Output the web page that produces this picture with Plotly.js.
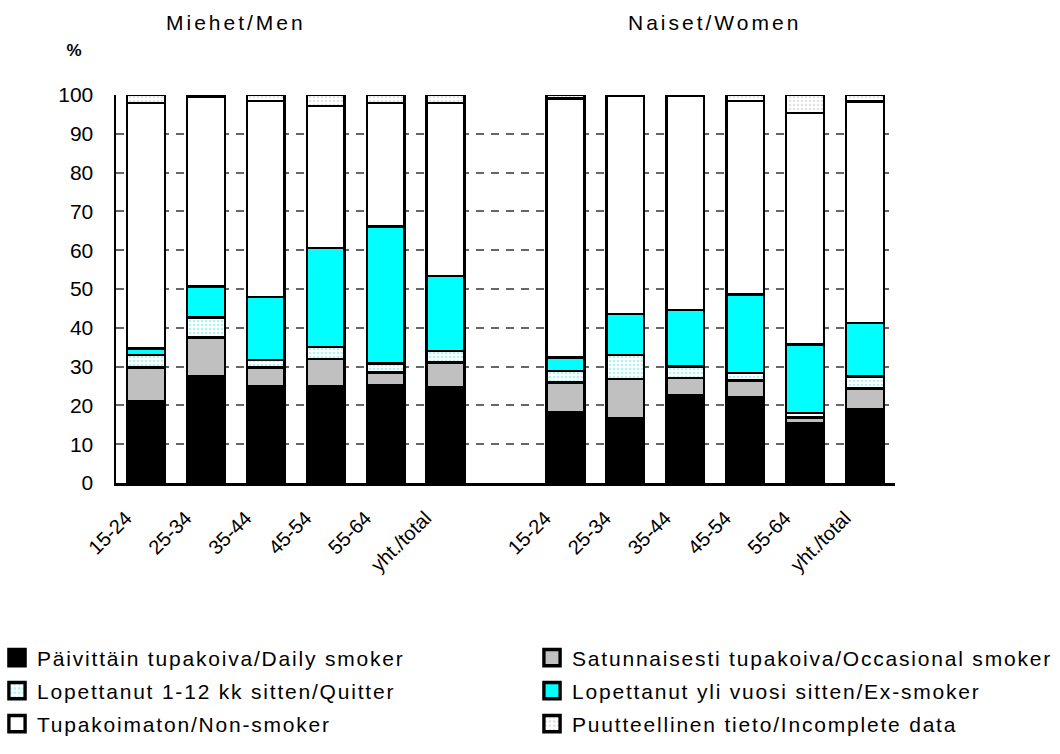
<!DOCTYPE html>
<html>
<head>
<meta charset="utf-8">
<script src="https://cdn.plot.ly/plotly-3.0.1.min.js"></script>
<style>
  html, body { margin: 0; padding: 0; background: #fff; }
  #chart { width: 1060px; height: 754px; }
  #chart .annotation-text { letter-spacing: 3px; }
  #chart text[class*="legend"] { letter-spacing: 1.8px; }
</style>
</head>
<body>
<div id="chart"></div>
<script>
// ---- data ----
const ageCategories = ['15-24', '25-34', '35-44', '45-54', '55-64', 'yht./total'];
const groupTitles = ['Miehet/Men', 'Naiset/Women'];
const seriesNames = [
  'Päivittäin tupakoiva/Daily smoker',
  'Satunnaisesti tupakoiva/Occasional smoker',
  'Lopettanut 1-12 kk sitten/Quitter',
  'Lopettanut yli vuosi sitten/Ex-smoker',
  'Tupakoimaton/Non-smoker',
  'Puutteellinen tieto/Incomplete data'
];
// Men (%), by age category
const menDaily      = [21.0, 27.6, 25.0, 25.0, 25.3, 24.7];
const menOccasional = [ 8.8,  9.9,  4.8,  6.9,  3.2,  6.3];
const menQuitter    = [ 3.2,  5.2,  1.9,  3.2,  2.3,  3.0];
const menExSmoker   = [ 1.7,  7.9, 16.3, 25.5, 35.3, 19.4];
const menNonSmoker  = [63.2, 49.0, 50.5, 36.6, 31.8, 44.6];
const menIncomplete = [ 2.1,  0.4,  1.5,  2.8,  2.1,  2.0];
// Women (%), by age category
const womenDaily      = [18.2, 16.8, 22.7, 22.1, 15.5, 19.1];
const womenOccasional = [ 7.7, 10.0,  4.3,  4.3,  1.4,  5.3];
const womenQuitter    = [ 3.0,  6.2,  3.0,  1.9,  1.1,  3.0];
const womenExSmoker   = [ 3.4, 10.5, 14.6, 20.3, 17.7, 13.8];
const womenNonSmoker  = [66.8, 56.3, 55.2, 49.9, 59.6, 57.1];
const womenIncomplete = [ 0.9,  0.2,  0.2,  1.5,  4.7,  1.7];
const yTicks = [0, 10, 20, 30, 40, 50, 60, 70, 80, 90, 100];

// ---- build ----
const menX = ageCategories.map((_, i) => i);
const womenX = ageCategories.map((_, i) => i + ageCategories.length + 1);
const xAll = menX.concat(womenX);
const tickText = ageCategories.concat(ageCategories);

const menSeries = [menDaily, menOccasional, menQuitter, menExSmoker, menNonSmoker, menIncomplete];
const womenSeries = [womenDaily, womenOccasional, womenQuitter, womenExSmoker, womenNonSmoker, womenIncomplete];

const styles = [
  { color: '#000000' },
  { color: '#c0c0c0' },
  { color: '#ffffff', pattern: { shape: '.', fgcolor: '#66e6f0', bgcolor: '#ffffff', size: 4, solidity: 0.35, fillmode: 'overlay' } },
  { color: '#00ffff' },
  { color: '#ffffff' },
  { color: '#ffffff', pattern: { shape: '.', fgcolor: '#c8c8c8', bgcolor: '#ffffff', size: 4, solidity: 0.35, fillmode: 'overlay' } }
];
const legendIds = ['legend', 'legend2', 'legend3', 'legend4', 'legend5', 'legend6'];

const traces = seriesNames.map((name, k) => {
  const m = { color: styles[k].color, line: { color: '#000000', width: 2.5 } };
  if (styles[k].pattern) m.pattern = styles[k].pattern;
  return {
    type: 'bar',
    name: name,
    x: xAll,
    y: menSeries[k].concat(womenSeries[k]),
    width: 0.63,
    marker: m,
    legend: legendIds[k]
  };
});

// plot area in pixels: x 116..895, y 95..483
const W = 1060, H = 754;
const L = 116, R = 895, T = 95, B = 483;
const px = x => (x - L) / (R - L);
const py = y => (B - y) / (B - T);

const FONT = 'Liberation Sans, Arial, sans-serif';
const legendFont = { family: FONT, size: 21, color: '#000' };
const legendPos = [[-3, 658], [532, 658], [-3, 691], [532, 691], [-3, 724], [532, 724]];
const layout = {
  width: W, height: H,
  margin: { l: L, r: W - R, t: T, b: H - B, pad: 0, autoexpand: false },
  paper_bgcolor: '#ffffff',
  plot_bgcolor: '#ffffff',
  barmode: 'stack',
  font: { family: FONT, color: '#000' },
  xaxis: {
    range: [-0.5, 12.5],
    tickmode: 'array',
    tickvals: xAll,
    ticktext: tickText,
    tickangle: -45,
    tickfont: { size: 20, color: '#000' },
    ticklabelshift: -20,
    ticklabelstandoff: 13,
    showgrid: false,
    zeroline: false,
    showline: true,
    linecolor: '#000',
    linewidth: 2.5,
    ticks: '',
    fixedrange: true
  },
  yaxis: {
    range: [0, 100],
    tickvals: yTicks,
    tickfont: { size: 21, color: '#000' },
    showgrid: true,
    gridcolor: '#666666',
    gridwidth: 2,
    griddash: '8px,7px',
    zeroline: false,
    showline: true,
    linecolor: '#000',
    linewidth: 2.5,
    ticks: '',
    ticklabelstandoff: 16,
    fixedrange: true
  },
  annotations: [
    { text: groupTitles[0], xref: 'paper', yref: 'paper', x: px(236), y: py(22), showarrow: false,
      font: { size: 21, color: '#000' }, xanchor: 'center', yanchor: 'middle' },
    { text: groupTitles[1], xref: 'paper', yref: 'paper', x: px(714), y: py(22), showarrow: false,
      font: { size: 21, color: '#000' }, xanchor: 'center', yanchor: 'middle' },
    { text: '<b>%</b>', xref: 'paper', yref: 'paper', x: px(75), y: py(51), showarrow: false,
      font: { size: 17, color: '#000' }, xanchor: 'center', yanchor: 'middle' }
  ],
  showlegend: true
};
legendIds.forEach((id, k) => {
  layout[id] = {
    x: px(legendPos[k][0]), y: py(legendPos[k][1]),
    xanchor: 'left', yanchor: 'middle',
    orientation: 'h',
    entrywidth: 480, entrywidthmode: 'pixels',
    font: legendFont,
    bgcolor: 'rgba(0,0,0,0)',
    borderwidth: 0
  };
});

Plotly.newPlot('chart', traces, layout, { displayModeBar: false, staticPlot: true }).then(() => {
  // slightly larger legend swatches, like the original
  document.querySelectorAll('#chart .legendpoints path').forEach(p => {
    const tr = p.getAttribute('transform') || '';
    p.setAttribute('transform', tr + ' scale(1.35)');
  });
});
</script>
</body>
</html>
